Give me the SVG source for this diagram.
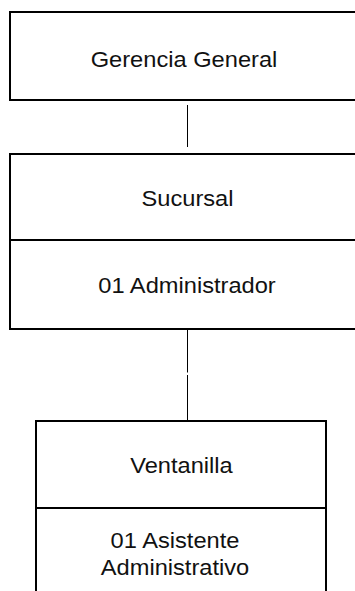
<svg xmlns="http://www.w3.org/2000/svg" width="355" height="591" viewBox="0 0 355 591">
  <style>
    .box { fill: #ffffff; stroke: #000000; stroke-width: 2; }
    .div { stroke: #000000; stroke-width: 2; }
    .link { stroke: #000000; stroke-width: 1; fill: none; }
    .lbl { font-family: "Liberation Sans", Arial, sans-serif; font-size: 21.5px; fill: #111111; text-anchor: middle; }
  </style>
  <rect width="355" height="591" fill="#ffffff"/>

  <!-- connectors -->
  <g id="connectors">
    <line class="link" x1="187.5" y1="105" x2="187.5" y2="147"/>
    <line class="link" x1="187.5" y1="330" x2="187.5" y2="372.5"/>
    <line class="link" x1="187.5" y1="375" x2="187.5" y2="420"/>
  </g>

  <!-- top unit -->
  <g id="gerencia-general">
    <rect class="box" x="10" y="12" width="370" height="88"/>
    <text class="lbl" transform="translate(184,67) scale(1.1,1)">Gerencia General</text>
  </g>

  <!-- branch with its manager -->
  <g id="sucursal">
    <rect class="box" x="10" y="154" width="370" height="175"/>
    <line class="div" x1="10" y1="240" x2="380" y2="240"/>
    <text class="lbl" transform="translate(187.5,206) scale(1.1,1)">Sucursal</text>
    <text class="lbl" transform="translate(187,293) scale(1.1,1)">01 Administrador</text>
  </g>

  <!-- counter with its assistant -->
  <g id="ventanilla">
    <rect class="box" x="36" y="421" width="290" height="200"/>
    <line class="div" x1="36" y1="508" x2="326" y2="508"/>
    <text class="lbl" transform="translate(181.5,473) scale(1.1,1)">Ventanilla</text>
    <text class="lbl" transform="translate(175,548) scale(1.1,1)">01 Asistente</text>
    <text class="lbl" transform="translate(175,575) scale(1.1,1)">Administrativo</text>
  </g>
</svg>
